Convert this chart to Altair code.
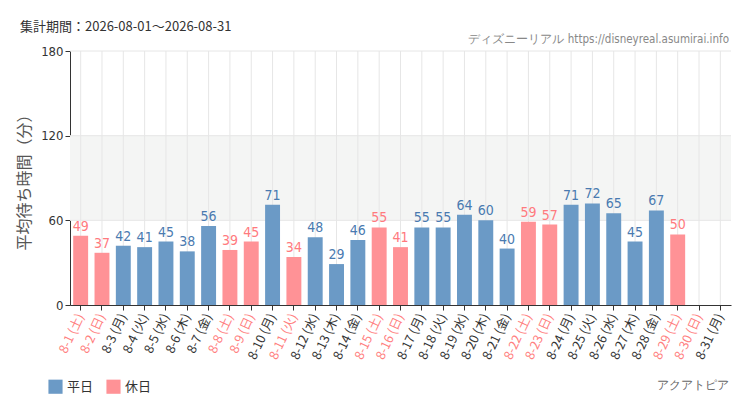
import altair as alt
import pandas as pd

days = [f"8-{i}" for i in range(1, 32)]
weekdays = (["土", "日", "月", "火", "水", "木", "金"] * 5)[:31]
values = [49, 37, 42, 41, 45, 38, 56, 39, 45, 71, 34, 48, 29, 46, 55, 41,
          55, 55, 64, 60, 40, 59, 57, 71, 72, 65, 45, 67, 50, None, None]
holiday_extra = ["8-11"]
y_ticks = [0, 60, 120, 180]

labels = [f"{d} ({w})" for d, w in zip(days, weekdays)]
kinds = ["休日" if (w in ("土", "日") or d in holiday_extra) else "平日"
         for d, w in zip(days, weekdays)]

df = pd.DataFrame({"label": labels, "value": values, "kind": kinds})
band_df = pd.DataFrame({"y1": [60], "y2": [120]})
hgrid_df = pd.DataFrame({"v": y_ticks[1:]})

holiday_labels = [l for l, k in zip(labels, kinds) if k == "休日"]
test_expr = "indexof([" + ",".join(f"'{l}'" for l in holiday_labels) + "], datum.value) >= 0"

W, H = 661, 254
FONT = "Noto Sans CJK JP"
NARROW = "'Liberation Sans Narrow', 'DejaVu Sans Condensed', 'Roboto Condensed', Roboto, sans-serif"
GRID = "#e6e6e6"

color_scale = alt.Scale(domain=["平日", "休日"], range=["#6b9ac6", "#ff9296"])
x_scale = alt.Scale(domain=labels, paddingInner=0.3, paddingOuter=0.15)
y_scale = alt.Scale(domain=[0, 180])

x_axis = alt.Axis(title=None, labelAngle=-65, labelFontSize=12.5, labelFont=FONT,
                  labelColor={"condition": {"test": test_expr, "value": "#ff8080"}, "value": "#333333"},
                  grid=False, bandPosition=0.5,
                  domainColor="#333333", tickColor="#333333", tickSize=5, labelPadding=4)
y_axis = alt.Axis(values=y_ticks, title="平均待ち時間（分）", grid=False,
                  titleFont=FONT, titleFontSize=16, titleFontWeight="normal",
                  titleColor="#555555", titlePadding=8,
                  labelFont=NARROW, labelFontSize=13, labelColor="#333333",
                  domainColor="#333333", tickColor="#333333", tickSize=5)

band = alt.Chart(band_df).mark_rect(color="#f4f5f4").encode(
    x=alt.value(0), x2=alt.value(W),
    y=alt.Y("y1:Q", scale=y_scale, axis=y_axis), y2="y2:Q")

vgrid = alt.Chart(df).mark_rule(color=GRID, strokeWidth=1).encode(
    x=alt.X("label:N", sort=labels, scale=x_scale, axis=x_axis),
    y=alt.value(0), y2=alt.value(H))

hgrid = alt.Chart(hgrid_df).mark_rule(color=GRID, strokeWidth=1).encode(
    y=alt.Y("v:Q", scale=y_scale, axis=y_axis), x=alt.value(0), x2=alt.value(W))

bars = alt.Chart(df).mark_bar().encode(
    x=alt.X("label:N", sort=labels, scale=x_scale, axis=x_axis),
    y=alt.Y("value:Q", scale=y_scale, axis=y_axis),
    color=alt.Color("kind:N", scale=color_scale,
                    legend=alt.Legend(title=None, orient="none", legendX=-22, legendY=328,
                                      direction="horizontal", symbolType="square",
                                      symbolSize=200, symbolStrokeWidth=0,
                                      labelFont=FONT, labelFontSize=13, labelColor="#333333",
                                      columnPadding=12, symbolOpacity=1)),
)

text = alt.Chart(df).mark_text(dy=-9, font=NARROW, fontSize=14).encode(
    x=alt.X("label:N", sort=labels, scale=x_scale, axis=x_axis),
    y=alt.Y("value:Q", scale=y_scale, axis=y_axis),
    text=alt.Text("value:Q"),
    color=alt.Color("kind:N", scale=alt.Scale(domain=["平日", "休日"], range=["#4a7ab0", "#ff7a7e"]),
                    legend=None),
)

period = alt.Chart(pd.DataFrame({"t": ["集計期間：2026-08-01～2026-08-31"]})).mark_text(
    align="left", baseline="middle", font=FONT, fontSize=13, color="#333333").encode(
    x=alt.value(-50), y=alt.value(-24), text="t:N")

credit = alt.Chart(pd.DataFrame({"t": ["ディズニーリアル https://disneyreal.asumirai.info"]})).mark_text(
    align="right", baseline="middle", font=NARROW, fontSize=11.5, color="#888888").encode(
    x=alt.value(W - 2), y=alt.value(-11), text="t:N")

attraction = alt.Chart(pd.DataFrame({"t": ["アクアトピア"]})).mark_text(
    align="right", baseline="middle", font=NARROW, fontSize=11.5, color="#666666").encode(
    x=alt.value(W - 2), y=alt.value(335), text="t:N")

chart = alt.layer(band, vgrid, hgrid, bars, text, period, credit, attraction).resolve_scale(
    color="independent").properties(
    width=W, height=H,
    autosize=alt.AutoSizeParams(type="none"),
    padding={"left": 62, "top": 43, "right": 11, "bottom": 97},
    background="white",
).configure_view(stroke=None)

chart.save("out.html", embed_options={"renderer": "svg", "actions": False})
